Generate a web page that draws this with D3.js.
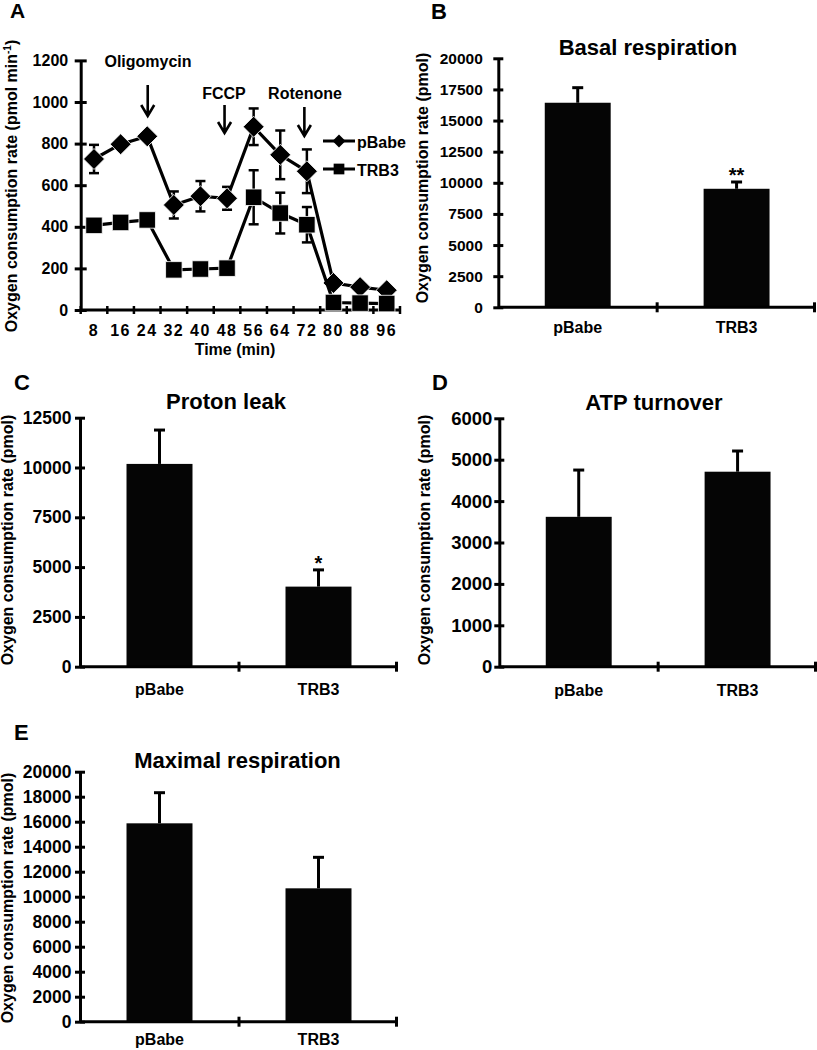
<!DOCTYPE html>
<html>
<head>
<meta charset="utf-8">
<script src="https://cdn.jsdelivr.net/npm/d3@7"></script>
<style>
  html, body { margin: 0; padding: 0; background: #fff; }
  svg { display: block; }
  text { font-family: "Liberation Sans", Arial, sans-serif; font-weight: bold; fill: #000; }
</style>
</head>
<body>
<script>
// ---------- Data ----------
// Panel A: Seahorse time course
const times = [8, 16, 24, 32, 40, 48, 56, 64, 72, 80, 88, 96];
const pBabeOCR = [726, 797, 835, 505, 547, 537, 881, 746, 667, 130, 110, 95];
const pBabeSD  = [68, 18, 18, 65, 73, 55, 88, 117, 105, 18, 15, 15];
const trb3OCR  = [407, 421, 433, 193, 197, 201, 542, 466, 410, 36, 33, 31];
const trb3SD   = [15, 15, 15, 15, 15, 15, 130, 98, 85, 10, 10, 10];
const ocrTicks = [0, 200, 400, 600, 800, 1000, 1200];
const injections = [
  { name: "Oligomycin", at: 24 },
  { name: "FCCP", at: 48 },
  { name: "Rotenone", at: 72 }
];
const seriesNames = ["pBabe", "TRB3"];

// Bar panels
const groups = ["pBabe", "TRB3"];
const basalMean = [16430, 9520];
const basalSEM  = [1210, 545];
const basalTicks = [0, 2500, 5000, 7500, 10000, 12500, 15000, 17500, 20000];
const leakMean = [10180, 4020];
const leakSEM  = [1700, 840];
const leakTicks = [0, 2500, 5000, 7500, 10000, 12500];
const atpMean = [3620, 4710];
const atpSEM  = [1130, 500];
const atpTicks = [0, 1000, 2000, 3000, 4000, 5000, 6000];
const maxMean = [15870, 10670];
const maxSEM  = [2450, 2480];
const maxTicks = [0, 2000, 4000, 6000, 8000, 10000, 12000, 14000, 16000, 18000, 20000];
const basalStars = ["", "**"];
const leakStars = ["", "*"];
const atpStars = ["", ""];
const maxStars = ["", ""];

// ---------- Drawing ----------
const W = 817, H = 1050;
const svg = d3.select("body").append("svg").attr("width", W).attr("height", H);
svg.append("rect").attr("width", W).attr("height", H).attr("fill", "#fff");
const fmt = d3.format("d");

function styleAxis(g, fontSize) {
  g.select(".domain").attr("stroke", "#000").attr("stroke-width", 3);
  g.selectAll(".tick line").attr("stroke", "#000").attr("stroke-width", 3);
  g.selectAll(".tick text").attr("font-size", fontSize).attr("font-weight", "bold")
    .attr("font-family", '"Liberation Sans", Arial, sans-serif').attr("fill", "#000");
}

// ===== Panel A =====
(function () {
  const g = svg.append("g");
  const x = d3.scaleBand().domain(times).range([80.7, 400]).padding(0);
  const y = d3.scaleLinear().domain([0, 1200]).range([310, 60.4]);
  const bw = x.bandwidth();
  const cx = t => x(t) + bw / 2;

  // Y axis
  const ya = g.append("g").attr("transform", `translate(${x.range()[0]},0)`)
    .call(d3.axisLeft(y).tickValues(ocrTicks).tickFormat(fmt).tickSizeInner(6).tickSizeOuter(0).tickPadding(6.5));
  styleAxis(ya, 16);
  ya.selectAll(".tick line").attr("x1", 6);

  // X axis line + boundary ticks
  const bounds = times.map(t => x(t)).concat([x.range()[1]]);
  g.append("line").attr("x1", x.range()[0]).attr("x2", x.range()[1])
    .attr("y1", y(0)).attr("y2", y(0)).attr("stroke", "#000").attr("stroke-width", 3);
  g.selectAll(".xb").data(bounds).join("line")
    .attr("x1", d => d).attr("x2", d => d).attr("y1", y(0) - 4).attr("y2", y(0) + 4)
    .attr("stroke", "#000").attr("stroke-width", 2.5);
  const xa = g.append("g").attr("transform", `translate(0,${y(0)})`)
    .call(d3.axisBottom(x).tickSize(0).tickPadding(14.5));
  xa.select(".domain").remove();
  styleAxis(xa, 16);
  xa.selectAll(".tick text").attr("letter-spacing", 1.5);

  // axis titles
  g.append("text").attr("x", 235).attr("y", 355).attr("text-anchor", "middle")
    .attr("font-size", 16).text("Time (min)");
  const yt = g.append("text").attr("transform", "translate(17,186) rotate(-90)")
    .attr("text-anchor", "middle").attr("font-size", 16);
  yt.append("tspan").text("Oxygen consumption rate (pmol min");
  yt.append("tspan").attr("font-size", 10).attr("dy", -6).text("-1");
  yt.append("tspan").attr("dy", 6).text(")");

  // injection labels + arrows
  const arrowPos = {
    Oligomycin: { tx: 148, ty: 67, top: 85, tip: 116, dx: 0.5 },
    FCCP: { tx: 224, ty: 99, top: 105, tip: 133, dx: -2.5 },
    Rotenone: { tx: 305, ty: 99, top: 107, tip: 136, dx: -2.5 }
  };
  injections.forEach(inj => {
    const p = arrowPos[inj.name];
    const ax = cx(inj.at) + p.dx;
    g.append("text").attr("x", p.tx).attr("y", p.ty).attr("text-anchor", "middle")
      .attr("font-size", 16).text(inj.name);
    g.append("path")
      .attr("d", `M${ax},${p.top}V${p.tip - 1}M${ax - 6.5},${p.tip - 11}L${ax},${p.tip}L${ax + 6.5},${p.tip - 11}`)
      .attr("fill", "none").attr("stroke", "#000").attr("stroke-width", 2.6);
  });

  const diamond = d3.symbol().type(d3.symbolSquare).size(220);
  const square = d3.symbol().type(d3.symbolSquare).size(272);
  const line = d3.line().x(d => cx(d.t)).y(d => y(d.v));

  function series(vals, sds, kind) {
    const data = times.map((t, i) => ({ t, v: vals[i], sd: sds[i] }));
    const eg = g.append("g").attr("stroke", "#000").attr("stroke-width", 2.5);
    data.forEach(d => {
      const X = cx(d.t);
      eg.append("line").attr("x1", X).attr("x2", X).attr("y1", y(d.v - d.sd)).attr("y2", y(d.v + d.sd));
      eg.append("line").attr("x1", X - 5).attr("x2", X + 5).attr("y1", y(d.v + d.sd)).attr("y2", y(d.v + d.sd));
      eg.append("line").attr("x1", X - 5).attr("x2", X + 5).attr("y1", y(d.v - d.sd)).attr("y2", y(d.v - d.sd));
    });
    g.append("path").datum(data).attr("d", line).attr("fill", "none")
      .attr("stroke", "#000").attr("stroke-width", 3.2).attr("stroke-linejoin", "round");
    g.selectAll(null).data(data).join("path")
      .attr("d", kind === "diamond" ? diamond : square)
      .attr("transform", d => `translate(${cx(d.t)},${y(d.v)})` + (kind === "diamond" ? " rotate(45)" : ""))
      .attr("fill", "#000").attr("stroke", "#fff").attr("stroke-width", 0.8);
  }
  series(pBabeOCR, pBabeSD, "diamond");
  series(trb3OCR, trb3SD, "square");

  // legend
  const leg = [
    { name: seriesNames[0], y: 141, kind: "diamond" },
    { name: seriesNames[1], y: 169, kind: "square" }
  ];
  leg.forEach(l => {
    g.append("line").attr("x1", 323).attr("x2", 355).attr("y1", l.y).attr("y2", l.y)
      .attr("stroke", "#000").attr("stroke-width", 3);
    g.append("path")
      .attr("d", d3.symbol().type(d3.symbolSquare).size(l.kind === "diamond" ? 85 : 115)())
      .attr("transform", `translate(339,${l.y})` + (l.kind === "diamond" ? " rotate(45)" : ""))
      .attr("fill", "#000");
    g.append("text").attr("x", 357).attr("y", l.y + 6.5).attr("font-size", 16).text(l.name);
  });

  g.append("text").attr("x", 10).attr("y", 18).attr("font-size", 21).text("A");
})();

// ===== Bar panels =====
function barPanel(o) {
  const g = svg.append("g");
  const x = d3.scaleBand().domain(groups).range([o.x0, o.x1]).padding(0);
  const y = d3.scaleLinear().domain([0, o.max]).range([o.yBottom, o.yTop]);
  const bw = x.bandwidth();
  const barW = bw * 0.415;
  const cx = d => x(d) + bw / 2;

  // bars
  g.selectAll(".bar").data(groups).join("rect")
    .attr("x", d => cx(d) - barW / 2).attr("width", barW)
    .attr("y", (d, i) => y(o.values[i])).attr("height", (d, i) => y(0) - y(o.values[i]))
    .attr("fill", "#050505");
  // error bars (upper)
  groups.forEach((d, i) => {
    const X = cx(d), top = y(o.values[i] + o.errs[i]);
    g.append("line").attr("x1", X).attr("x2", X).attr("y1", y(o.values[i])).attr("y2", top)
      .attr("stroke", "#000").attr("stroke-width", 3);
    g.append("line").attr("x1", X - 5.5).attr("x2", X + 5.5).attr("y1", top).attr("y2", top)
      .attr("stroke", "#000").attr("stroke-width", 3);
    if (o.stars[i]) {
      g.append("text").attr("x", X).attr("y", top - o.starGap).attr("text-anchor", "middle")
        .attr("font-size", 20).text(o.stars[i]);
    }
  });

  // y axis
  const ya = g.append("g").attr("transform", `translate(${o.x0},0)`)
    .call(d3.axisLeft(y).tickValues(o.ticks).tickFormat(fmt).tickSizeInner(5).tickSizeOuter(0).tickPadding(o.tickPad));
  styleAxis(ya, o.tickFont);
  ya.selectAll(".tick line").attr("x1", 5);

  // x axis
  g.append("line").attr("x1", o.x0).attr("x2", o.x1).attr("y1", y(0)).attr("y2", y(0))
    .attr("stroke", "#000").attr("stroke-width", 3);
  g.selectAll(".xt").data(groups.slice(1).map(d => x(d)).concat([o.x1 - 1.5])).join("line")
    .attr("x1", d => d).attr("x2", d => d).attr("y1", y(0) - 5).attr("y2", y(0) + 5)
    .attr("stroke", "#000").attr("stroke-width", 3);
  g.selectAll(".xl").data(groups).join("text")
    .attr("x", d => cx(d)).attr("y", y(0) + o.labelOffset).attr("text-anchor", "middle")
    .attr("font-size", 16).text(d => d);

  // titles
  g.append("text").attr("x", o.titleX).attr("y", o.titleY).attr("text-anchor", "middle")
    .attr("font-size", 22).text(o.title);
  g.append("text").attr("transform", `translate(${o.yTitleX},${o.yTitleY}) rotate(-90)`)
    .attr("text-anchor", "middle").attr("font-size", 16).text("Oxygen consumption rate (pmol)");
  g.append("text").attr("x", o.letterX).attr("y", o.letterY).attr("font-size", 22).text(o.letter);
}

barPanel({
  x0: 498.3, x1: 816, yBottom: 307.3, yTop: 58.3, max: 20000, ticks: basalTicks,
  values: basalMean, errs: basalSEM, stars: basalStars, starGap: 0,
  title: "Basal respiration", titleX: 648, titleY: 55,
  tickFont: 15.5, tickPad: 10.5, labelOffset: 25.5,
  yTitleX: 428, yTitleY: 178, letter: "B", letterX: 431, letterY: 18.5
});
barPanel({
  x0: 80, x1: 398, yBottom: 666.7, yTop: 417.7, max: 12500, ticks: leakTicks,
  values: leakMean, errs: leakSEM, stars: leakStars, starGap: 0,
  title: "Proton leak", titleX: 226, titleY: 409,
  tickFont: 17.5, tickPad: 3.5, labelOffset: 28,
  yTitleX: 13, yTitleY: 540, letter: "C", letterX: 14, letterY: 390
});
barPanel({
  x0: 499.3, x1: 817, yBottom: 666.7, yTop: 418.3, max: 6000, ticks: atpTicks,
  values: atpMean, errs: atpSEM, stars: atpStars, starGap: 0,
  title: "ATP turnover", titleX: 654, titleY: 410,
  tickFont: 18.5, tickPad: 2, labelOffset: 29,
  yTitleX: 429.5, yTitleY: 540, letter: "D", letterX: 432, letterY: 390
});
barPanel({
  x0: 80, x1: 398, yBottom: 1021.7, yTop: 771.7, max: 20000, ticks: maxTicks,
  values: maxMean, errs: maxSEM, stars: maxStars, starGap: 0,
  title: "Maximal respiration", titleX: 237.5, titleY: 768,
  tickFont: 17.5, tickPad: 3.5, labelOffset: 23,
  yTitleX: 13, yTitleY: 898, letter: "E", letterX: 14, letterY: 740
});
</script>
</body>
</html>
